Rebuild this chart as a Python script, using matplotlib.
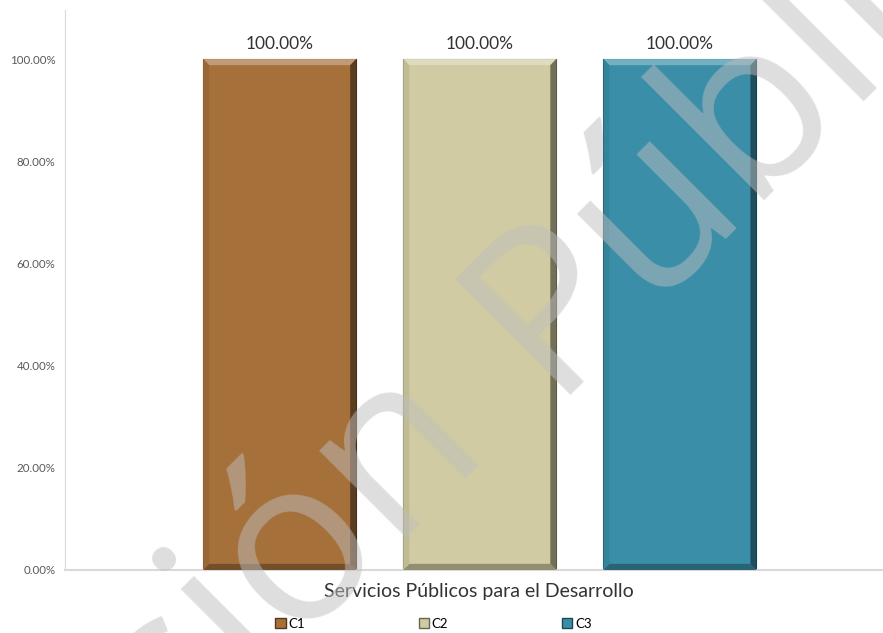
import matplotlib.pyplot as plt
from matplotlib.patches import Polygon
from matplotlib.ticker import PercentFormatter
import matplotlib.colors as mcolors

# Data
series = ["C1", "C2", "C3"]
values = [1.0, 1.0, 1.0]
bar_colors = ["#a6703a", "#d0cba2", "#3a8ea8"]
yticks = [0.0, 0.2, 0.4, 0.6, 0.8, 1.0]
title = "Servicios Públicos para el Desarrollo"
watermark_left = "Versión"
watermark_right = "Pública"


def shade(color, factor):
    r, g, b = mcolors.to_rgb(color)
    if factor >= 0:
        return (r + (1 - r) * factor, g + (1 - g) * factor, b + (1 - b) * factor)
    return (r * (1 + factor), g * (1 + factor), b * (1 + factor))


def add_bevel(ax, rect, color):
    """Draw a simple bevel on a bar using its own geometry."""
    x0 = rect.get_x()
    x1 = x0 + rect.get_width()
    y0 = rect.get_y()
    y1 = y0 + rect.get_height()
    dx = 0.03
    dy = 0.012
    top = [(x0, y1), (x1, y1), (x1 - dx, y1 - dy), (x0 + dx, y1 - dy)]
    right = [(x1, y1), (x1, y0), (x1 - dx, y0 + dy), (x1 - dx, y1 - dy)]
    bottom = [(x0, y0), (x1, y0), (x1 - dx, y0 + dy), (x0 + dx, y0 + dy)]
    left = [(x0, y0), (x0, y1), (x0 + dx, y1 - dy), (x0 + dx, y0 + dy)]
    ax.add_patch(Polygon(top, closed=True, facecolor=shade(color, 0.3), edgecolor="none", zorder=3))
    ax.add_patch(Polygon(bottom, closed=True, facecolor=shade(color, -0.3), edgecolor="none", zorder=3))
    ax.add_patch(Polygon(left, closed=True, facecolor=shade(color, -0.08), edgecolor="none", zorder=3))
    ax.add_patch(Polygon(right, closed=True, facecolor=shade(color, -0.45), edgecolor="none", zorder=3))


fig = plt.figure(figsize=(8.83, 6.33), dpi=100)
ax = fig.add_axes([65 / 883, 63 / 633, 817 / 883, 560 / 633])

positions = list(range(len(series)))
bars = ax.bar(positions, values, width=0.765, color=bar_colors, label=series,
              edgecolor=[shade(c, -0.6) for c in bar_colors], linewidth=0.8, zorder=2)
for rect, c in zip(bars, bar_colors):
    add_bevel(ax, rect, c)

# Data labels
for rect, v in zip(bars, values):
    ax.annotate(f"{v * 100:.2f}%", (rect.get_x() + rect.get_width() / 2, v),
                xytext=(0, 5), textcoords="offset points", ha="center", va="bottom",
                fontsize=12.5, family="Lato", color="#333333")

ax.set_xlim(-1.0725, 3.01)
ax.set_ylim(0, 1.096)
ax.set_yticks(yticks)
ax.yaxis.set_major_formatter(PercentFormatter(1.0, decimals=2))
ax.set_xticks([])
ax.tick_params(axis="y", length=0, pad=7, labelsize=8.3, labelcolor="#595959")
for lbl in ax.get_yticklabels():
    lbl.set_family("Lato")
for side in ["top", "right"]:
    ax.spines[side].set_visible(False)
ax.spines["left"].set_color("#d9d9d9")
ax.spines["bottom"].set_color("#d9d9d9")
ax.spines["bottom"].set_linewidth(1.5)

fig.text(479 / 883, (633 - 592) / 633, title, ha="center", va="center",
         fontsize=14, family="Lato", color="#333333")

handles = [plt.Rectangle((0, 0), 1, 1, facecolor=c, edgecolor=shade(c, -0.5)) for c in bar_colors]
fig.legend(handles, series, loc="center", bbox_to_anchor=(433.5 / 883, 9 / 633), ncol=3,
           frameon=False, handlelength=0.8, handleheight=0.8,
           handletextpad=0.2, columnspacing=8.6, prop={"family": "Lato", "size": 9.5})

# Watermark
wm = dict(fontsize=165, family="Open Sans", color="#bebebe", alpha=0.5, rotation=45,
          rotation_mode="anchor", va="baseline", zorder=10)
fig.text(548 / 883, (633 - 395) / 633, watermark_right, ha="left", **wm)
fig.text(492 / 883, (633 - 452) / 633, watermark_left, ha="right", **wm)

fig.savefig("out.png", dpi=100)
